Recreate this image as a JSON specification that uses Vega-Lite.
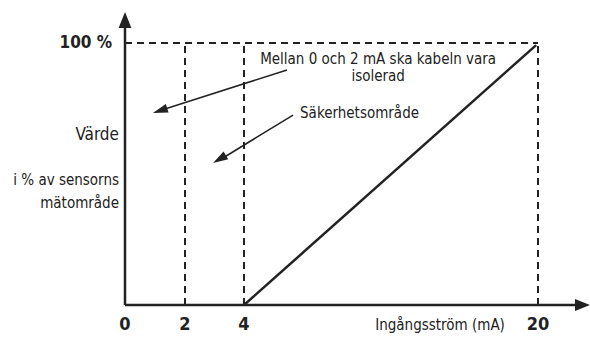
{
  "$schema": "https://vega.github.io/schema/vega-lite/v6.json",
  "width": 590,
  "height": 337,
  "padding": 0,
  "autosize": "none",
  "background": "white",
  "config": {"view": {"stroke": null}, "text": {"font": "'DejaVu Sans Condensed', Roboto, sans-serif", "color": "#222"}},
  "datasets": {
    "dashed": [
      {"x": 0, "y": 100, "x2": 20, "y2": 100},
      {"x": 2, "y": 0, "x2": 2, "y2": 100},
      {"x": 4, "y": 0, "x2": 4, "y2": 100},
      {"x": 20, "y": 0, "x2": 20, "y2": 100}
    ],
    "axes": [
      {"x": 0, "y": 0, "x2": 22.3, "y2": 0},
      {"x": 0, "y": 0, "x2": 0, "y2": 108}
    ],
    "signal": [
      {"x": 4, "y": 0, "x2": 19.9, "y2": 99.2}
    ],
    "pointers": [
      {"x": 6.34, "y": 89.7, "x2": 1.2, "y2": 74.3},
      {"x": 6.67, "y": 72.5, "x2": 3.3, "y2": 56.2}
    ],
    "headY": [{"x": 0, "y": 111.8}],
    "headX": [{"x": 22.83, "y": 0}],
    "head1": [{"x": 0.93, "y": 73.3}],
    "head2": [{"x": 2.95, "y": 54.2}],
    "ticks": [
      {"x": 0, "y": -7.6, "t": "0"},
      {"x": 2, "y": -7.6, "t": "2"},
      {"x": 4, "y": -7.6, "t": "4"},
      {"x": 20, "y": -7.6, "t": "20"}
    ],
    "top": [{"x": -0.43, "y": 100, "t": "100 %"}],
    "ylabel": [{"x": -0.2, "y": 64.9, "t": "Värde"}],
    "ysub": [
      {"x": -0.2, "y": 47.7, "t": "i % av sensorns\nmätområde"}
    ],
    "centered": [
      {"x": 11.3, "y": 93.9, "t": "Mellan 0 och 2 mA ska kabeln vara\nisolerad"},
      {"x": 14.67, "y": -7.6, "t": "Ingångsström (mA)"}
    ],
    "left": [{"x": 7.05, "y": 73.3, "t": "Säkerhetsområde"}]
  },
  "encoding": {
    "x": {"field": "x", "type": "quantitative", "axis": null,
      "scale": {"type": "linear", "domain": [-4.1667, 0, 2, 4, 20, 22.83], "range": [0, 125, 185, 244, 538, 590], "nice": false, "zero": false}},
    "y": {"field": "y", "type": "quantitative", "axis": null,
      "scale": {"domain": [-12.2, 116.4], "nice": false, "zero": false}}
  },
  "layer": [
    {"data": {"name": "dashed"}, "mark": {"type": "rule", "color": "#222", "strokeWidth": 2, "strokeDash": [7, 5]},
      "encoding": {"x2": {"field": "x2"}, "y2": {"field": "y2"}}},
    {"data": {"name": "axes"}, "mark": {"type": "rule", "color": "#222", "strokeWidth": 2.5},
      "encoding": {"x2": {"field": "x2"}, "y2": {"field": "y2"}}},
    {"data": {"name": "signal"}, "mark": {"type": "rule", "color": "#222", "strokeWidth": 2.5},
      "encoding": {"x2": {"field": "x2"}, "y2": {"field": "y2"}}},
    {"data": {"name": "pointers"}, "mark": {"type": "rule", "color": "#222", "strokeWidth": 1.5},
      "encoding": {"x2": {"field": "x2"}, "y2": {"field": "y2"}}},
    {"data": {"name": "headY"}, "mark": {"type": "point", "shape": "M0,0L-0.4,1L0.4,1Z", "size": 1024, "angle": 0, "filled": true, "opacity": 1, "color": "#222"}},
    {"data": {"name": "headX"}, "mark": {"type": "point", "shape": "M0,0L-0.4,1L0.4,1Z", "size": 900, "angle": 90, "filled": true, "opacity": 1, "color": "#222"}},
    {"data": {"name": "head1"}, "mark": {"type": "point", "shape": "M0,0L-0.3,1L0.3,1Z", "size": 900, "angle": 252, "filled": true, "opacity": 1, "color": "#222"}},
    {"data": {"name": "head2"}, "mark": {"type": "point", "shape": "M0,0L-0.3,1L0.3,1Z", "size": 900, "angle": 239, "filled": true, "opacity": 1, "color": "#222"}},
    {"data": {"name": "ticks"}, "mark": {"type": "text", "fontSize": 18, "fontWeight": "bold", "align": "center", "baseline": "middle"},
      "encoding": {"text": {"field": "t"}}},
    {"data": {"name": "top"}, "mark": {"type": "text", "fontSize": 17, "fontWeight": "bold", "align": "right", "baseline": "middle"},
      "encoding": {"text": {"field": "t"}}},
    {"data": {"name": "ylabel"}, "mark": {"type": "text", "fontSize": 17, "align": "right", "baseline": "middle"},
      "encoding": {"text": {"field": "t"}}},
    {"data": {"name": "ysub"}, "mark": {"type": "text", "fontSize": 15, "align": "right", "baseline": "middle", "lineBreak": "\n", "lineHeight": 23},
      "encoding": {"text": {"field": "t"}}},
    {"data": {"name": "centered"}, "mark": {"type": "text", "fontSize": 15, "align": "center", "baseline": "middle", "lineBreak": "\n", "lineHeight": 17.5},
      "encoding": {"text": {"field": "t"}}},
    {"data": {"name": "left"}, "mark": {"type": "text", "fontSize": 15, "align": "left", "baseline": "middle"},
      "encoding": {"text": {"field": "t"}}}
  ]
}
